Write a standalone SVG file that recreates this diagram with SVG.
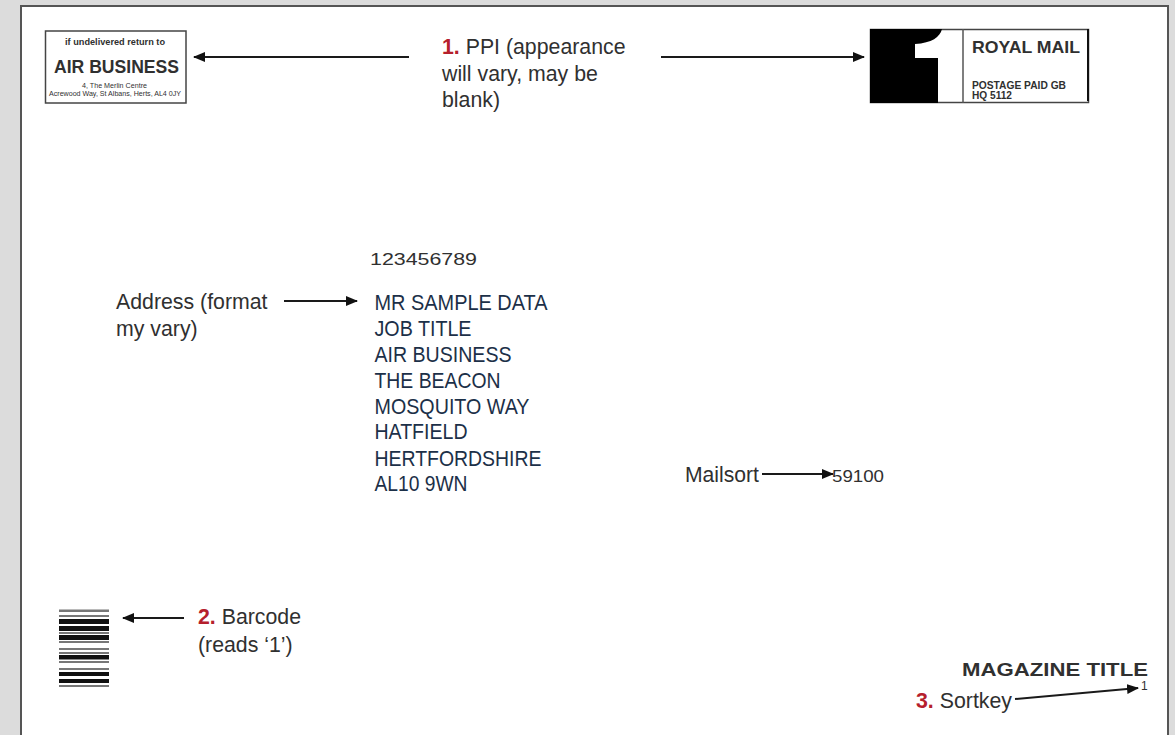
<svg xmlns="http://www.w3.org/2000/svg" width="1175" height="735" viewBox="0 0 1175 735">
<style>
text{font-family:"Liberation Sans",Arial,sans-serif;fill:#303030}
.l{font-size:21.300px}
.r{fill:#b5202c;font-weight:bold}
.a{font-size:21.500px;fill:#1c3048}
.c{stroke:#1a1a1a;stroke-width:2;fill:none;marker-end:url(#h)}
.bx{fill:#fff;stroke:#444;stroke-width:1.500}
.b{fill:#111}
.g{fill:#777}
</style>
<defs><marker id="h" markerUnits="userSpaceOnUse" markerWidth="12" markerHeight="10" refX="11" refY="5" orient="auto"><path d="M0 0L12 5L0 10Z" fill="#111"/></marker></defs>
<rect width="1175" height="735" fill="#dcdcdc"/>
<rect x="21" y="6" width="1147" height="740" fill="#fff" stroke="#555" stroke-width="2"/>
<g id="connectors">
<path class="c" d="M409 57H194"/>
<path class="c" d="M661 57H864"/>
<path class="c" d="M284 301H357"/>
<path class="c" d="M762 474H833"/>
<path class="c" d="M184 618H123"/>
<path class="c" d="M1015 699L1138 688"/>
</g>
<g id="ppi-return">
<rect class="bx" x="45.500" y="31" width="140.500" height="72"/>
<text x="65" y="45" font-size="8.500" font-weight="bold" textLength="100" lengthAdjust="spacingAndGlyphs">if undelivered return to</text>
<text x="54" y="72.500" font-size="17.500" font-weight="bold" fill="#222" textLength="125" lengthAdjust="spacingAndGlyphs">AIR BUSINESS</text>
<text x="82" y="88" font-size="6.500" fill="#555" textLength="65" lengthAdjust="spacingAndGlyphs">4, The Merlin Centre</text>
<text x="49" y="95.500" font-size="7" fill="#444" textLength="132" lengthAdjust="spacingAndGlyphs">Acrewood Way, St Albans, Herts, AL4 0JY</text>
</g>
<g id="ppi-label">
<text class="l" x="442" y="54"><tspan class="r">1.</tspan> PPI (appearance</text>
<text class="l" x="442" y="80.500">will vary, may be</text>
<text class="l" x="442" y="106.500">blank)</text>
</g>
<g id="ppi-royal-mail">
<rect class="bx" x="870.500" y="29.500" width="218" height="73"/>
<path fill="#000" d="M870 29H942C940 37 932 43 915 44V58H938V103H870Z"/>
<path d="M963 29V103" stroke="#555" stroke-width="1.500"/>
<path d="M1088 29V101" stroke="#111" stroke-width="2"/>
<text x="972" y="53" font-size="16.500" font-weight="bold" fill="#333" textLength="108" lengthAdjust="spacingAndGlyphs">ROYAL MAIL</text>
<text x="972" y="88.500" font-size="10" font-weight="bold" fill="#555" textLength="94" lengthAdjust="spacingAndGlyphs">POSTAGE PAID GB</text>
<text x="972" y="99" font-size="10" font-weight="bold" fill="#555" textLength="40" lengthAdjust="spacingAndGlyphs">HQ 5112</text>
</g>
<g id="reference-number"><text x="370" y="265" font-size="17" textLength="107" lengthAdjust="spacingAndGlyphs">123456789</text></g>
<g id="address-label">
<text class="l" x="116" y="309">Address (format</text>
<text class="l" x="116" y="336">my vary)</text>
</g>
<g id="address">
<text class="a" x="374.500" y="310" textLength="173" lengthAdjust="spacingAndGlyphs">MR SAMPLE DATA</text>
<text class="a" x="374.500" y="336" textLength="97" lengthAdjust="spacingAndGlyphs">JOB TITLE</text>
<text class="a" x="374.500" y="362" textLength="137" lengthAdjust="spacingAndGlyphs">AIR BUSINESS</text>
<text class="a" x="374.500" y="387.500" textLength="126" lengthAdjust="spacingAndGlyphs">THE BEACON</text>
<text class="a" x="374.500" y="413.500" textLength="155" lengthAdjust="spacingAndGlyphs">MOSQUITO WAY</text>
<text class="a" x="374.500" y="439" textLength="93" lengthAdjust="spacingAndGlyphs">HATFIELD</text>
<text class="a" x="374.500" y="465.500" textLength="167" lengthAdjust="spacingAndGlyphs">HERTFORDSHIRE</text>
<text class="a" x="374.500" y="491" textLength="93" lengthAdjust="spacingAndGlyphs">AL10 9WN</text>
</g>
<g id="mailsort">
<text class="l" x="685" y="482" textLength="74" lengthAdjust="spacingAndGlyphs">Mailsort</text>
<text x="832" y="482" font-size="17" textLength="52" lengthAdjust="spacingAndGlyphs">59100</text>
</g>
<g id="barcode">
<rect class="g" x="59" y="609.500" width="50" height="2.500"/>
<rect class="g" x="59" y="615" width="50" height="2"/>
<rect class="b" x="59" y="619" width="50" height="5"/>
<rect class="b" x="59" y="626" width="50" height="5"/>
<rect class="g" x="59" y="632" width="50" height="2"/>
<rect class="b" x="59" y="635" width="50" height="5"/>
<rect class="g" x="59" y="641" width="50" height="2"/>
<rect class="g" x="59" y="648" width="50" height="2"/>
<rect class="g" x="59" y="652" width="50" height="2"/>
<rect class="b" x="59" y="655" width="50" height="4.500"/>
<rect class="g" x="59" y="661" width="50" height="2"/>
<rect class="g" x="59" y="668" width="50" height="2"/>
<rect class="b" x="59" y="672" width="50" height="4"/>
<rect class="b" x="59" y="679" width="50" height="4"/>
<rect class="g" x="59" y="685" width="50" height="2"/>
</g>
<g id="barcode-label">
<text class="l" x="198" y="624"><tspan class="r">2.</tspan> Barcode</text>
<text class="l" x="198" y="651.500">(reads ‘1’)</text>
</g>
<g id="magazine-title"><text x="962" y="676" font-size="18" font-weight="bold" fill="#222" textLength="186" lengthAdjust="spacingAndGlyphs">MAGAZINE TITLE</text></g>
<g id="sortkey-label"><text class="l" x="916" y="707.500" textLength="96" lengthAdjust="spacingAndGlyphs"><tspan class="r">3.</tspan> Sortkey</text></g>
<g id="sortkey"><text x="1141" y="690" font-size="12" fill="#555">1</text></g>
</svg>
